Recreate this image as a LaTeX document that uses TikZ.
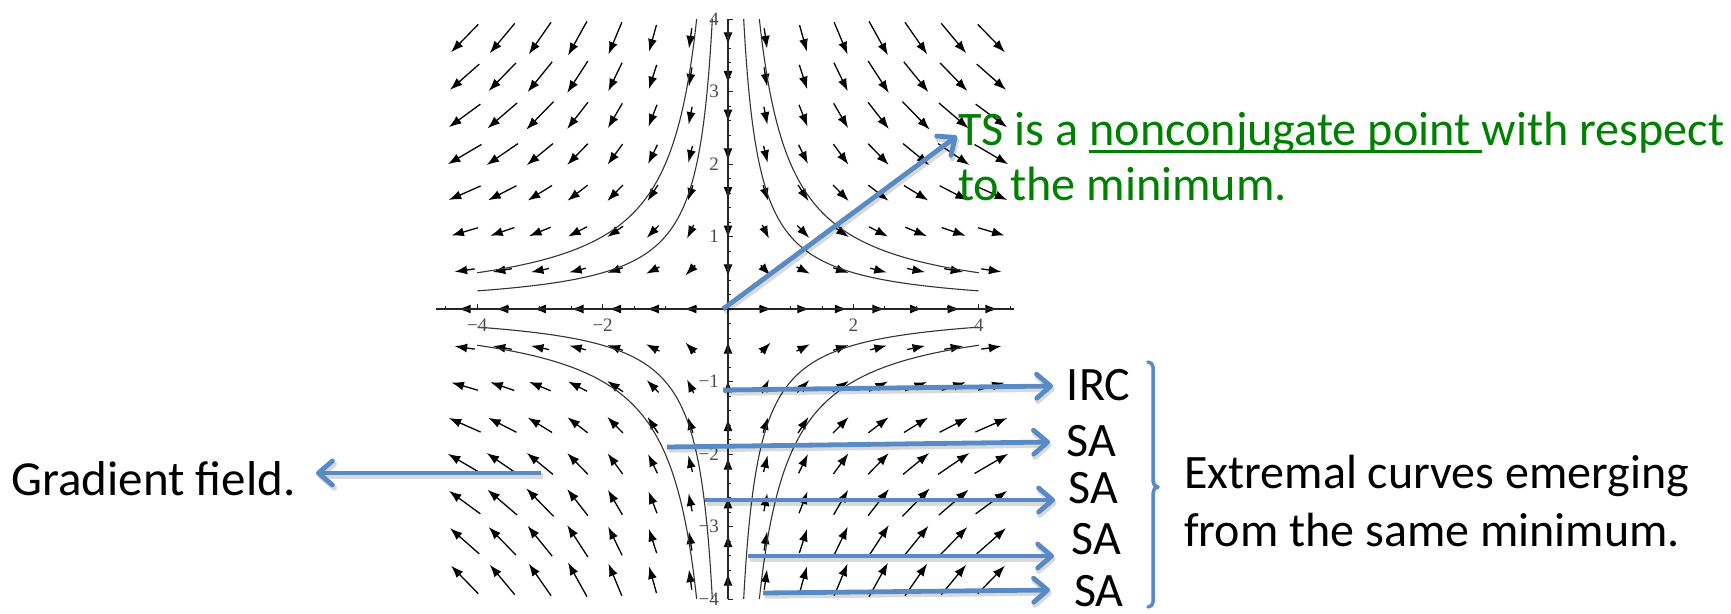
\documentclass[tikz,border=0pt]{standalone}
\usepackage{fontspec}
\setmainfont{Carlito}
\newfontfamily\tickfont{Liberation Serif}
\usetikzlibrary{arrows.meta}
\definecolor{offblue}{RGB}{88,138,198}
\definecolor{tsgreen}{RGB}{0,128,0}
\newsavebox\ulsave
\newcommand\myul[1]{\sbox\ulsave{#1}\rlap{\rule[-8.1pt]{\wd\ulsave}{2.8pt}}\usebox\ulsave}
\begin{document}
\begin{tikzpicture}[x=1pt,y=-1pt,
  vec/.style={line width=1.3pt, black, -{Latex[length=12.5pt,width=9pt]}},
  stream/.style={line width=1.1pt, black!80},
  axisline/.style={line width=1.2pt, black!85},
  tickmark/.style={line width=0.9pt, black!85},
  ticklabel/.style={font=\tickfont\fontsize{19}{19}\selectfont, text=black!70, inner sep=0pt},
  lbl/.style={font=\fontsize{48}{57}\selectfont, inner sep=0pt, anchor=base west},
  callout/.style={offblue, line width=4.8pt, -{Straight Barb[length=14pt,width=24pt,round]},
     preaction={draw=black, opacity=0.15, line width=5.5pt, transform canvas={xshift=1.5pt,yshift=-3pt}}},
  bracket/.style={offblue, line width=3.5pt, line cap=round, line join=round}
]
\fill[white] (0,0) rectangle (1731,613);
\useasboundingbox (0,0) rectangle (1731,613);

% vector field
\foreach \i in {-7,...,7}{
  \foreach \j in {-7,...,7}{
    \pgfmathtruncatemacro\nz{abs(\i)+abs(\j)}
    \ifnum\nz>0
      \pgfmathsetmacro\xx{0.6*(\i)}
      \pgfmathsetmacro\yy{0.533333*(\j)}
      \pgfmathsetmacro\cx{728+62.7*(\xx)}
      \pgfmathsetmacro\cy{309-72.5*(\yy)}
      \pgfmathsetmacro\L{13+26*min(1,abs((\xx)*(\yy))/8)}
      \pgfmathsetmacro\ang{atan2((\yy)*72.5,(\xx)*62.7)}
      \pgfmathsetmacro\dx{0.5*(\L)*cos(\ang)}
      \pgfmathsetmacro\dy{0.5*(\L)*sin(\ang)}
      \draw[vec] ({\cx-(\dx)},{\cy-(\dy)}) -- ({\cx+(\dx)},{\cy+(\dy)});
    \fi
  }
}

% streamlines (hyperbolas xy = +-1, +-2)
\foreach \sx/\sy in {1/1,-1/1,1/-1,-1/-1}{
  \foreach \k/\m in {1/1.386294, 1.414214/1.039721}{
    \draw[stream] plot[domain=-\m:\m, samples=70, smooth, variable=\t]
      ({728+62.7*(\sx)*(\k)*exp(\t)}, {309-72.5*(\sy)*(\k)*exp(-1*(\t))});
  }
}

% axes
\draw[axisline] (436,309) -- (1014,309);
\draw[axisline] (728,19) -- (728,599);
\foreach \n in {-9,...,9}{
  \pgfmathsetmacro\tx{728+31.35*(\n)}
  \draw[tickmark] (\tx,309) -- (\tx,306.3);
}
\foreach \v in {-4,-2,2,4}{
  \pgfmathsetmacro\tx{728+62.7*(\v)}
  \draw[tickmark] (\tx,309) -- (\tx,304);
}
\foreach \n in {-20,...,20}{
  \pgfmathsetmacro\ty{309-14.5*(\n)}
  \draw[tickmark] (728,\ty) -- (730.7,\ty);
}
\foreach \v in {-4,...,-1,1,2,3,4}{
  \pgfmathsetmacro\ty{309-72.5*(\v)}
  \draw[tickmark] (728,\ty) -- (733,\ty);
}
\node[ticklabel] (xlm4) at (477.2,325) {−4};
\node[ticklabel] (xlm2) at (602.6,325) {−2};
\node[ticklabel] (xlp2) at (853.4,325) {2};
\node[ticklabel] (xlp4) at (978.8,325) {4};
\node[ticklabel, anchor=east] (ylp4) at (719,19) {4};
\node[ticklabel, anchor=east] (ylp3) at (719,91.5) {3};
\node[ticklabel, anchor=east] (ylp2) at (719,164) {2};
\node[ticklabel, anchor=east] (ylp1) at (719,236.5) {1};
\node[ticklabel, anchor=east] (ylm1) at (719,381.5) {−1};
\node[ticklabel, anchor=east] (ylm2) at (719,454) {−2};
\node[ticklabel, anchor=east] (ylm3) at (719,526.5) {−3};
\node[ticklabel, anchor=east] (ylm4) at (719,599) {−4};

% texts
\node[lbl, font=\fontsize{49}{59}\selectfont] (grad) at (11,495) {Gradient field.};
\node[lbl, text=tsgreen, font=\fontsize{48.2}{58}\selectfont] (ts1) at (958,145) {TS is a \myul{nonconjugate point }with respect};
\node[lbl, text=tsgreen, font=\fontsize{48.2}{58}\selectfont] (ts2) at (958,200) {to the minimum.};
\node[lbl] (irc) at (1066.7,400.7) {IRC};
\node[lbl] (sa1) at (1066.7,456.7) {SA};
\node[lbl] (sa2) at (1068.3,503.3) {SA};
\node[lbl] (sa3) at (1071.7,554) {SA};
\node[lbl] (sa4) at (1074,606.5) {SA};
\node[lbl] (ext1) at (1184,488) {Extremal curves emerging};
\node[lbl] (ext2) at (1184,546) {from the same minimum.};

% callout arrows
\coordinate (tsA) at (723,309);   \coordinate (tsB) at (957,136);
\coordinate (grA) at (541,473);   \coordinate (grB) at (316,473);
\coordinate (irA) at (723,390);   \coordinate (irB) at (1053,386);
\coordinate (s1A) at (667,447);   \coordinate (s1B) at (1050,442);
\coordinate (s2A) at (705,500);   \coordinate (s2B) at (1055,500);
\coordinate (s3A) at (748,556);   \coordinate (s3B) at (1054,556);
\coordinate (s4A) at (763,593);   \coordinate (s4B) at (1050,590);
\draw[callout] (tsA) -- (tsB);
\draw[callout] (grA) -- (grB);
\draw[callout] (irA) -- (irB);
\draw[callout] (s1A) -- (s1B);
\draw[callout] (s2A) -- (s2B);
\draw[callout] (s3A) -- (s3B);
\draw[callout] (s4A) -- (s4B);

% bracket
\draw[bracket] (1148,362) to[out=0,in=90] (1153,367) -- (1153,481)
  to[out=-90,in=180] (1158,487) to[out=180,in=90] (1153,493) -- (1153,602)
  to[out=-90,in=0] (1148,607);
\end{tikzpicture}
\end{document}
